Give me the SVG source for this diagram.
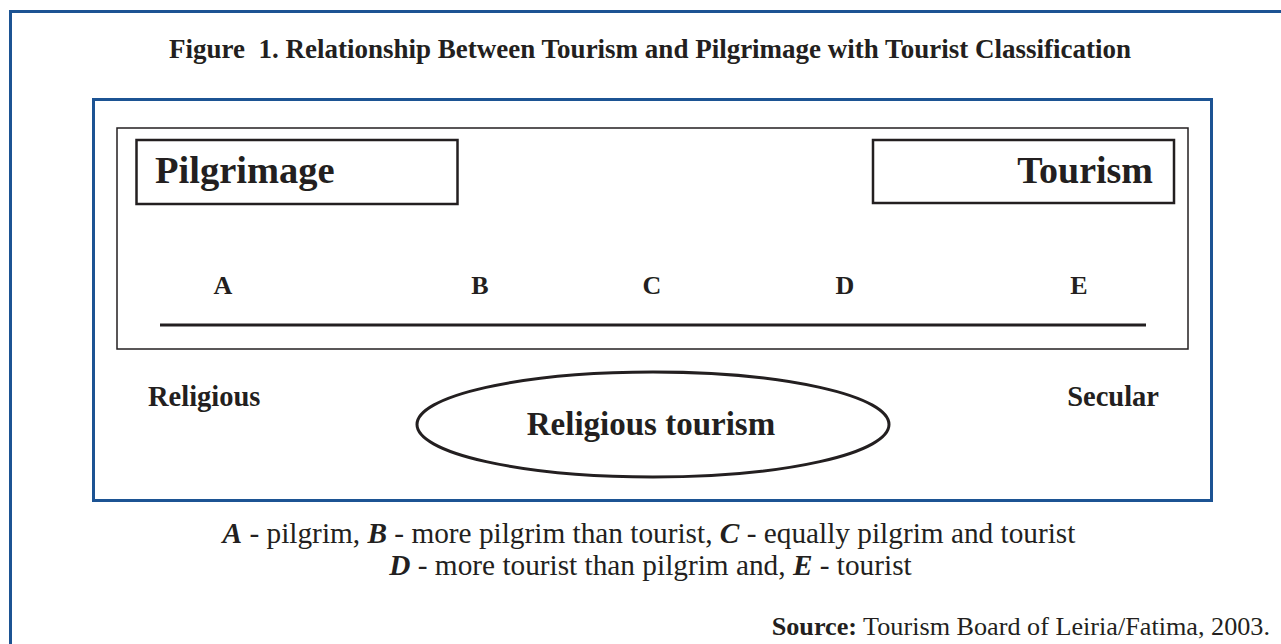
<svg xmlns="http://www.w3.org/2000/svg" width="1281" height="644" viewBox="0 0 1281 644">
<style>
.blue{fill:none;stroke:#1c5393;stroke-width:3}
.box{fill:none;stroke:#231f20}
.t{font-family:"Liberation Serif","Times New Roman",serif;fill:#231f20}
.b{font-weight:bold}
.bi{font-weight:bold;font-style:italic}
</style>
<rect width="1281" height="644" fill="#fff"/>
<path class="blue" d="M1290,11.5 H10.5 V660"/>
<text class="t b" x="650" y="58" font-size="27" text-anchor="middle" xml:space="preserve">Figure  1. Relationship Between Tourism and Pilgrimage with Tourist Classification</text>
<rect class="blue" x="93.5" y="99.5" width="1118" height="401"/>
<rect class="box" x="117" y="128" width="1071" height="221" stroke-width="1.5"/>
<g id="pilgrimage">
<rect class="box" x="136.5" y="140" width="321" height="64" stroke-width="2.5"/>
<text class="t b" x="155" y="183" font-size="38.5">Pilgrimage</text>
</g>
<g id="tourism">
<rect class="box" x="873" y="140" width="301" height="63" stroke-width="2.5"/>
<text class="t b" x="1153" y="183" font-size="38" text-anchor="end">Tourism</text>
</g>
<g id="scale">
<g class="t b" font-size="26" text-anchor="middle">
<text x="223" y="294">A</text>
<text x="480" y="294">B</text>
<text x="652" y="294">C</text>
<text x="845" y="294">D</text>
<text x="1079" y="294">E</text>
</g>
<line x1="160" y1="325" x2="1146" y2="325" stroke="#231f20" stroke-width="3"/>
</g>
<g id="religious"><text class="t b" x="148" y="406" font-size="28.5">Religious</text></g>
<g id="secular"><text class="t b" x="1159" y="406" font-size="28.5" text-anchor="end">Secular</text></g>
<g id="religious-tourism">
<ellipse cx="653" cy="424.5" rx="236" ry="52.5" fill="none" stroke="#231f20" stroke-width="3"/>
<text class="t b" x="651" y="435" font-size="33" text-anchor="middle">Religious tourism</text>
</g>
<g class="t" font-size="29.3" text-anchor="middle">
<text x="649" y="543"><tspan class="bi">A</tspan> - pilgrim, <tspan class="bi">B</tspan> - more pilgrim than tourist, <tspan class="bi">C</tspan> - equally pilgrim and tourist</text>
<text x="650.5" y="575"><tspan class="bi">D</tspan> - more tourist than pilgrim and, <tspan class="bi">E</tspan> - tourist</text>
</g>
<text class="t" x="1270" y="635" font-size="26.2" text-anchor="end"><tspan class="b">Source:</tspan> Tourism Board of Leiria/Fatima, 2003.</text>
</svg>
